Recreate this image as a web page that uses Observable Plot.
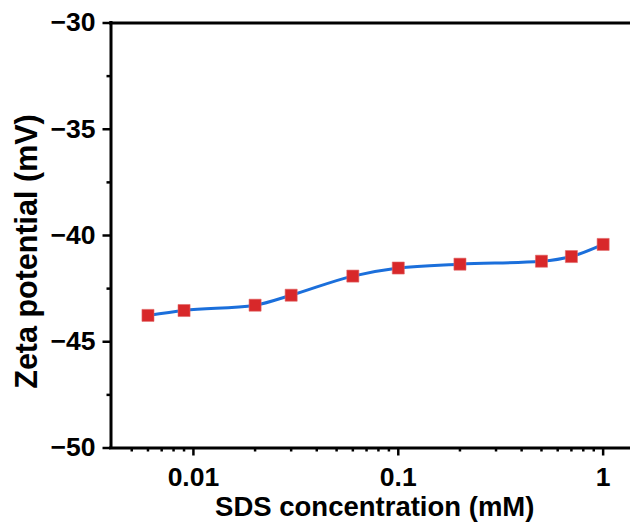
<!DOCTYPE html>
<html>
<head>
<meta charset="utf-8">
<script src="https://cdn.jsdelivr.net/npm/d3@7"></script>
<script src="https://cdn.jsdelivr.net/npm/@observablehq/plot@0.6"></script>
<style>
  html, body { margin: 0; padding: 0; background: white; }
  #chart { width: 630px; height: 529px; }
</style>
</head>
<body>
<div id="chart"></div>
<script>
const concentration = [0.006, 0.009, 0.02, 0.03, 0.06, 0.1, 0.2, 0.5, 0.7, 1];
const zeta = [-43.76, -43.53, -43.28, -42.81, -41.91, -41.53, -41.35, -41.21, -40.99, -40.42];

const xMajorTicks = [0.01, 0.1, 1];
const xTickLabels = ["0.01", "0.1", "1"];
const xMinorTicks = [0.005, 0.006, 0.007, 0.008, 0.009,
  0.02, 0.03, 0.04, 0.05, 0.06, 0.07, 0.08, 0.09,
  0.2, 0.3, 0.4, 0.5, 0.6, 0.7, 0.8, 0.9];
const yMajorTicks = [-50, -45, -40, -35, -30];
const yTickLabels = ["\u221250", "\u221245", "\u221240", "\u221235", "\u221230"];
const yMinorTicks = [-47.5, -42.5, -37.5, -32.5];

const xTitle = "SDS concentration (mM)";
const yTitle = "Zeta potential (mV)";

const xDomain = [0.00396, 1.36];
const yDomain = [-50, -30];

const data = concentration.map((c, i) => ({c, z: zeta[i]}));

const chart = Plot.plot({
  width: 630,
  height: 529,
  marginLeft: 110.5,
  marginRight: 0,
  marginTop: 22.5,
  marginBottom: 81.5,
  x: {type: "log", domain: xDomain},
  y: {domain: yDomain},
  style: {fontFamily: "'Liberation Sans', Arial, sans-serif", fontWeight: "bold", color: "black", background: "white"},
  marks: [
    Plot.axisX(xMinorTicks, {tickSize: 4, strokeWidth: 2.5, text: null, label: null}),
    Plot.axisX(xMajorTicks, {tickSize: 8, strokeWidth: 2.5, text: null, label: null}),
    Plot.axisY(yMinorTicks, {tickSize: 4, strokeWidth: 2.5, text: null, label: null}),
    Plot.axisY(yMajorTicks, {tickSize: 8, strokeWidth: 2.5, text: null, label: null}),
    Plot.text(xMajorTicks, {x: d => d, text: (d, i) => xTickLabels[i], frameAnchor: "bottom",
      textAnchor: "middle", lineAnchor: "top", dy: 19, fontSize: 26.5, fontWeight: "bold"}),
    Plot.text(yMajorTicks, {y: d => d, text: (d, i) => yTickLabels[i], frameAnchor: "left",
      textAnchor: "end", lineAnchor: "middle", dx: -15.5, fontSize: 26.5, fontWeight: "bold"}),
    Plot.ruleX([xDomain[0]], {stroke: "black", strokeWidth: 3, strokeLinecap: "square"}),
    Plot.ruleY([yDomain[0]], {stroke: "black", strokeWidth: 3, strokeLinecap: "square"}),
    Plot.ruleY([yDomain[1]], {stroke: "black", strokeWidth: 3, strokeLinecap: "square"}),
    Plot.line(data, {x: "c", y: "z", stroke: "#1b6fdb", strokeWidth: 3, curve: "monotone-x"}),
    Plot.dot(data, {x: "c", y: "z", symbol: "square", r: 6.8, fill: "#d8282a", stroke: "#e06a6a", strokeWidth: 0.6}),
    Plot.text([xTitle], {frameAnchor: "bottom", textAnchor: "middle", dx: 4, dy: 59.5, lineAnchor: "middle", fontSize: 27.5, fontWeight: "bold"}),
    Plot.text([yTitle], {frameAnchor: "left", textAnchor: "middle", dx: -83.5, dy: 16, rotate: -90, lineAnchor: "middle", fontSize: 30.5, fontWeight: "bold"})
  ]
});
document.getElementById("chart").appendChild(chart);
</script>
</body>
</html>
